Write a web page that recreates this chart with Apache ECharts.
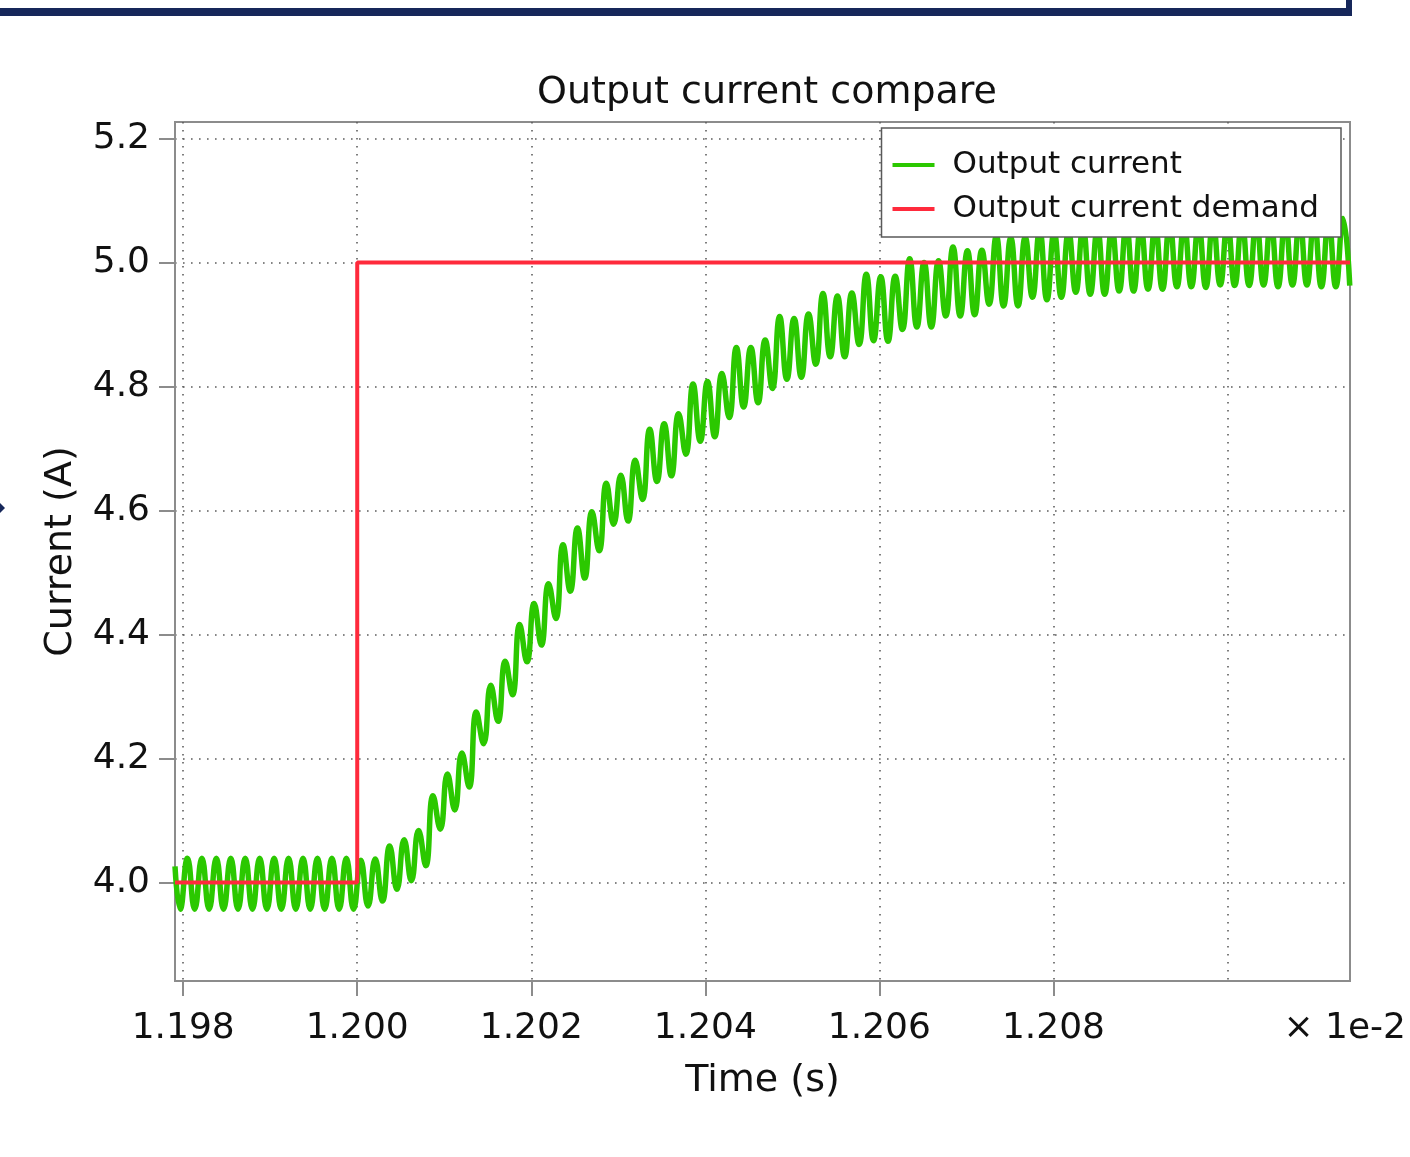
<!DOCTYPE html>
<html>
<head>
<meta charset="utf-8">
<title>Output current compare</title>
<script src="https://cdn.jsdelivr.net/npm/echarts@6/dist/echarts.min.js"></script>
<style>
  html, body { margin: 0; padding: 0; background: #ffffff; }
  #chart { width: 1410px; height: 1157px; }
</style>
</head>
<body>
<div id="chart"></div>
<script>
// time in units of 1e-2 s (axis shows "x 1e-2"); first entry is the left edge,
// the rest are the ripple peaks / troughs
const sampleTimes = [
  1.197906, 1.197966, 1.198049, 1.198132, 1.198215, 1.198298, 1.198381, 1.198464, 1.198547, 1.198630,
  1.198713, 1.198796, 1.198879, 1.198962, 1.199045, 1.199128, 1.199211, 1.199294, 1.199377, 1.199460,
  1.199543, 1.199626, 1.199709, 1.199792, 1.199875, 1.199958, 1.200041, 1.200124, 1.200207, 1.200290,
  1.200373, 1.200456, 1.200539, 1.200622, 1.200705, 1.200788, 1.200871, 1.200954, 1.201037, 1.201120,
  1.201203, 1.201286, 1.201369, 1.201452, 1.201535, 1.201618, 1.201701, 1.201784, 1.201867, 1.201950,
  1.202033, 1.202116, 1.202199, 1.202282, 1.202365, 1.202448, 1.202531, 1.202614, 1.202697, 1.202780,
  1.202863, 1.202946, 1.203029, 1.203112, 1.203195, 1.203278, 1.203361, 1.203444, 1.203527, 1.203610,
  1.203693, 1.203776, 1.203859, 1.203942, 1.204025, 1.204108, 1.204191, 1.204274, 1.204357, 1.204440,
  1.204523, 1.204606, 1.204688, 1.204771, 1.204854, 1.204937, 1.205020, 1.205103, 1.205186, 1.205269,
  1.205352, 1.205435, 1.205518, 1.205601, 1.205684, 1.205767, 1.205850, 1.205933, 1.206016, 1.206099,
  1.206182, 1.206265, 1.206348, 1.206431, 1.206514, 1.206597, 1.206680, 1.206763, 1.206846, 1.206929,
  1.207012, 1.207095, 1.207178, 1.207261, 1.207344, 1.207427, 1.207510, 1.207593, 1.207676, 1.207759,
  1.207842, 1.207925, 1.208008, 1.208091, 1.208174, 1.208257, 1.208340, 1.208423, 1.208506, 1.208589,
  1.208672, 1.208755, 1.208838, 1.208921, 1.209004, 1.209087, 1.209170, 1.209253, 1.209336, 1.209419,
  1.209502, 1.209585, 1.209668, 1.209751, 1.209834, 1.209917, 1.210000, 1.210083, 1.210166, 1.210249,
  1.210332, 1.210415, 1.210498, 1.210581, 1.210664, 1.210747, 1.210830, 1.210913, 1.210996, 1.211079,
  1.211162, 1.211245, 1.211328, 1.211405
];

const outputCurrent = [
  4.026, 3.957, 4.039, 3.957, 4.039, 3.957, 4.039, 3.957, 4.039, 3.957,
  4.039, 3.957, 4.039, 3.957, 4.039, 3.957, 4.039, 3.957, 4.039, 3.957,
  4.039, 3.957, 4.039, 3.957, 4.039, 3.957, 4.036, 3.962, 4.038, 3.970,
  4.059, 3.989, 4.069, 4.003, 4.084, 4.027, 4.140, 4.086, 4.175, 4.117,
  4.209, 4.154, 4.275, 4.224, 4.318, 4.260, 4.357, 4.303, 4.416, 4.356,
  4.450, 4.383, 4.482, 4.426, 4.545, 4.470, 4.572, 4.491, 4.598, 4.535,
  4.644, 4.578, 4.657, 4.583, 4.681, 4.618, 4.731, 4.647, 4.740, 4.656,
  4.756, 4.691, 4.804, 4.712, 4.808, 4.719, 4.821, 4.750, 4.863, 4.767,
  4.863, 4.774, 4.875, 4.797, 4.913, 4.812, 4.910, 4.815, 4.917, 4.836,
  4.950, 4.848, 4.946, 4.848, 4.951, 4.868, 4.981, 4.874, 4.977, 4.873,
  4.978, 4.892, 5.006, 4.896, 5.000, 4.896, 5.003, 4.914, 5.025, 4.914,
  5.019, 4.916, 5.020, 4.933, 5.043, 4.930, 5.040, 4.930, 5.041, 4.944,
  5.052, 4.940, 5.049, 4.944, 5.050, 4.952, 5.056, 4.949, 5.054, 4.949,
  5.055, 4.954, 5.060, 4.954, 5.058, 4.957, 5.059, 4.957, 5.063, 4.961,
  5.061, 4.961, 5.062, 4.960, 5.065, 4.964, 5.064, 4.963, 5.065, 4.963,
  5.067, 4.964, 5.066, 4.961, 5.067, 4.964, 5.069, 4.964, 5.068, 4.961,
  5.069, 4.961, 5.071, 4.963
];

const demandTimes = [1.197906, 1.2, 1.2, 1.211408];
const demandValues = [4.0, 4.0, 5.0, 5.0];

const xTickValues = [1.198, 1.2, 1.202, 1.204, 1.206, 1.208];
const xGridValues = [1.198, 1.2, 1.202, 1.204, 1.206, 1.208, 1.21];
const yTickValues = [4.0, 4.2, 4.4, 4.6, 4.8, 5.0, 5.2];

const FONT = "DejaVu Sans";
const AXIS_GREY = "#8c8c8c";
const GRID_DOTS = { color: "#5e5e5e", width: 1.6, type: [1.6, 6.4] };

const chart = echarts.init(document.getElementById("chart"), null, { renderer: "canvas" });

const currentData = sampleTimes.map((t, i) => [t, outputCurrent[i]]);
const demandData = demandTimes.map((t, i) => [t, demandValues[i]]);

chart.setOption({
  animation: false,
  backgroundColor: "#ffffff",
  title: {
    text: "Output current compare",
    left: 762,
    textAlign: "center",
    top: 69,
    textStyle: { fontFamily: FONT, fontSize: 38, fontWeight: "normal", color: "#111111" },
  },
  legend: {
    right: 69,
    top: 128,
    orient: "vertical",
    icon: "rect",
    itemWidth: 42,
    itemHeight: 4,
    itemGap: 10,
    padding: [20, 22, 11, 11],
    backgroundColor: "#ffffff",
    borderColor: "#5a5a5a",
    borderWidth: 1.5,
    borderRadius: 0,
    textStyle: { fontFamily: FONT, fontSize: 31, color: "#111111", lineHeight: 34, padding: [0, 0, 0, 13] },
    data: ["Output current", "Output current demand"],
  },
  grid: {
    left: 175,
    right: 60,
    top: 122,
    bottom: 176,
    show: true,
    borderColor: AXIS_GREY,
    borderWidth: 2,
    backgroundColor: "transparent",
  },
  xAxis: [
    {
      type: "value",
      min: 1.197906,
      max: 1.211408,
      name: "Time (s)",
      nameLocation: "middle",
      nameGap: 81,
      nameTextStyle: { fontFamily: FONT, fontSize: 38, color: "#111111" },
      axisLine: { show: true, lineStyle: { color: AXIS_GREY, width: 2 } },
      axisTick: { show: true, length: 15, lineStyle: { color: AXIS_GREY, width: 2 }, customValues: xTickValues },
      axisLabel: {
        customValues: xTickValues,
        margin: 30,
        fontFamily: FONT,
        fontSize: 36,
        color: "#111111",
        formatter: (v) => v.toFixed(3),
      },
      splitLine: { show: false },
    },
    {
      // only carries the dotted vertical grid (incl. 1.210 which has no label)
      type: "value",
      position: "bottom",
      min: 1.197906,
      max: 1.211408,
      axisLine: { show: false },
      axisTick: { show: false, customValues: xGridValues },
      axisLabel: { show: false },
      splitLine: { show: true, lineStyle: GRID_DOTS },
    },
  ],
  yAxis: {
    type: "value",
    min: 3.8411,
    max: 5.2268,
    name: "Current (A)",
    nameLocation: "middle",
    nameGap: 95,
    nameTextStyle: { fontFamily: FONT, fontSize: 38, color: "#111111" },
    axisLine: { show: true, lineStyle: { color: AXIS_GREY, width: 2 } },
    axisTick: { show: true, length: 16, lineStyle: { color: AXIS_GREY, width: 2 }, customValues: yTickValues },
    axisLabel: {
      customValues: yTickValues,
      margin: 25,
      fontFamily: FONT,
      fontSize: 36,
      color: "#111111",
      formatter: (v) => v.toFixed(1),
    },
    splitLine: { show: true, lineStyle: GRID_DOTS },
  },
  series: [
    {
      name: "Output current",
      type: "line",
      xAxisIndex: 0,
      data: currentData,
      smooth: 0.5,
      showSymbol: false,
      clip: true,
      color: "#2bc800",
      lineStyle: { color: "#2bc800", width: 5.5 },
      z: 2,
    },
    {
      name: "Output current demand",
      type: "line",
      xAxisIndex: 0,
      data: demandData,
      showSymbol: false,
      clip: true,
      color: "#ff2a3c",
      lineStyle: { color: "#ff2a3c", width: 4 },
      z: 3,
    },
  ],
  graphic: [
    // slide frame edge above the chart
    { type: "rect", left: 0, top: 8, shape: { width: 1352, height: 8 }, style: { fill: "#16275a" } },
    { type: "rect", left: 1346, top: 0, shape: { width: 6, height: 16 }, style: { fill: "#16275a" } },
    { type: "polygon", shape: { points: [[0, 503], [5, 508], [0, 513]] }, style: { fill: "#16275a" } },
    {
      type: "text",
      right: 4,
      top: 1011,
      style: { text: "\u00d7 1e-2", font: `36px "${FONT}"`, fill: "#111111" },
    },
  ],
});
</script>
</body>
</html>
